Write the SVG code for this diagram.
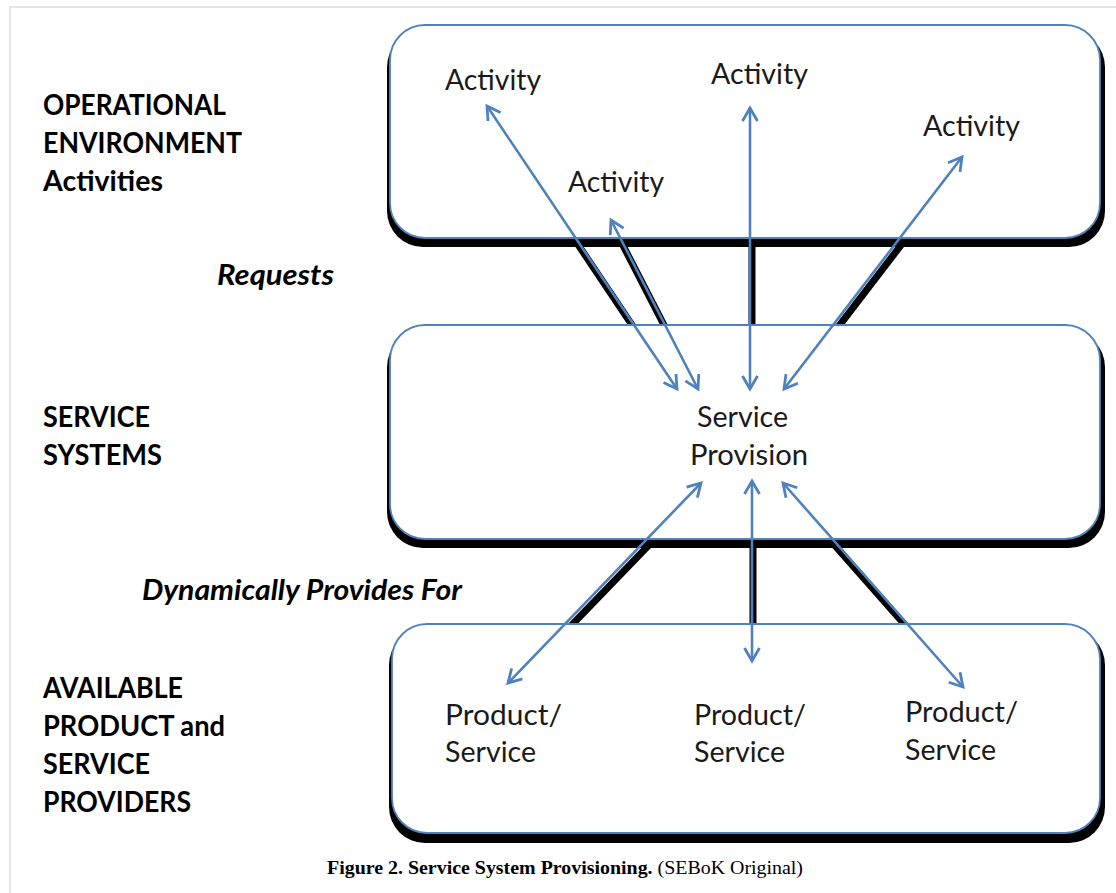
<svg xmlns="http://www.w3.org/2000/svg" width="1116" height="893" viewBox="0 0 1116 893">
  <style>
    .frame { stroke: #dedede; stroke-width: 1.5; fill: none; }
    .box { fill: #ffffff; stroke: #4F81BD; stroke-width: 1.8; }
    .boxshadow { fill: #000000; }
    .ashadow { stroke: #000000; stroke-width: 7; fill: none; }
    .arrow { stroke: #4F81BD; stroke-width: 2.6; fill: none; marker-start: url(#head); marker-end: url(#head); }
    .label { font-family: Lato, "Open Sans", "Liberation Sans", sans-serif; font-weight: bold; font-size: 28px; fill: #000; }
    .ilabel { font-family: Lato, "Open Sans", "Liberation Sans", sans-serif; font-weight: bold; font-style: italic; font-size: 28px; fill: #000; }
    .inner { font-family: Lato, "Open Sans", "Liberation Sans", sans-serif; font-size: 28px; fill: #1a1a1a; }
    .caption { font-family: "Liberation Serif", "Times New Roman", serif; font-size: 18px; fill: #000; }
  </style>
  <defs>
    <marker id="head" markerUnits="userSpaceOnUse" markerWidth="20" markerHeight="20" viewBox="-16 -10 20 20" refX="0" refY="0" orient="auto-start-reverse">
      <path d="M-13,-7.5 L0,0 L-13,7.5" fill="none" stroke="#4F81BD" stroke-width="2.8" stroke-linejoin="miter"/>
    </marker>
  </defs>

  <rect width="1116" height="893" fill="#ffffff"/>
  <path class="frame" d="M10,893 L10,7 L1116,7"/>

  <!-- arrow shadows (visible only between boxes) -->
  <g id="connector-shadows">
    <line class="ashadow" x1="489" y1="112" x2="679" y2="395"/>
    <line class="ashadow" x1="613" y1="226" x2="700" y2="395"/>
    <line class="ashadow" x1="752" y1="114" x2="752" y2="395"/>
    <line class="ashadow" x1="964" y1="163" x2="786" y2="395"/>
    <line class="ashadow" x1="703" y1="489" x2="510" y2="689"/>
    <line class="ashadow" x1="753" y1="487" x2="753" y2="667"/>
    <line class="ashadow" x1="785" y1="489" x2="965" y2="693"/>
  </g>

  <g id="box-operational">
    <rect class="boxshadow" x="387" y="31" width="718" height="216" rx="36"/>
    <rect class="box" x="390" y="25" width="710" height="213" rx="35"/>
  </g>
  <g id="box-service">
    <rect class="boxshadow" x="387" y="331" width="718" height="217" rx="36"/>
    <rect class="box" x="390" y="325" width="710" height="214" rx="35"/>
  </g>
  <g id="box-providers">
    <rect class="boxshadow" x="389" y="629" width="716" height="214" rx="36"/>
    <rect class="box" x="392" y="624" width="708" height="209" rx="35"/>
  </g>

  <g id="connectors">
    <line class="arrow" x1="487" y1="106" x2="677" y2="389"/>
    <line class="arrow" x1="611" y1="220" x2="698" y2="389"/>
    <line class="arrow" x1="750" y1="108" x2="750" y2="389"/>
    <line class="arrow" x1="962" y1="157" x2="784" y2="389"/>
    <line class="arrow" x1="701" y1="483" x2="508" y2="683"/>
    <line class="arrow" x1="752" y1="481" x2="752" y2="661"/>
    <line class="arrow" x1="783" y1="483" x2="963" y2="687"/>
  </g>

  <g id="label-operational">
    <text class="label" x="43" y="115" textLength="183" lengthAdjust="spacingAndGlyphs">OPERATIONAL</text>
    <text class="label" x="43" y="153" textLength="199" lengthAdjust="spacingAndGlyphs">ENVIRONMENT</text>
    <text class="label" x="43" y="191" textLength="120" lengthAdjust="spacingAndGlyphs">Activities</text>
  </g>
  <g id="label-requests">
    <text class="ilabel" x="217" y="285" textLength="117" lengthAdjust="spacingAndGlyphs">Requests</text>
  </g>
  <g id="label-service-systems">
    <text class="label" x="43" y="427" textLength="107" lengthAdjust="spacingAndGlyphs">SERVICE</text>
    <text class="label" x="43" y="465" textLength="119" lengthAdjust="spacingAndGlyphs">SYSTEMS</text>
  </g>
  <g id="label-provides">
    <text class="ilabel" x="142" y="600" textLength="320" lengthAdjust="spacingAndGlyphs">Dynamically Provides For</text>
  </g>
  <g id="label-providers">
    <text class="label" x="43" y="698" textLength="140" lengthAdjust="spacingAndGlyphs">AVAILABLE</text>
    <text class="label" x="43" y="736" textLength="182" lengthAdjust="spacingAndGlyphs">PRODUCT and</text>
    <text class="label" x="43" y="774" textLength="107" lengthAdjust="spacingAndGlyphs">SERVICE</text>
    <text class="label" x="43" y="812" textLength="148" lengthAdjust="spacingAndGlyphs">PROVIDERS</text>
  </g>

  <g id="activity-1"><text class="inner" x="445" y="90" textLength="96" lengthAdjust="spacingAndGlyphs">Activity</text></g>
  <g id="activity-2"><text class="inner" x="711" y="84" textLength="97" lengthAdjust="spacingAndGlyphs">Activity</text></g>
  <g id="activity-3"><text class="inner" x="923" y="136" textLength="97" lengthAdjust="spacingAndGlyphs">Activity</text></g>
  <g id="activity-4"><text class="inner" x="568" y="192" textLength="96" lengthAdjust="spacingAndGlyphs">Activity</text></g>

  <g id="service-provision">
    <text class="inner" x="697" y="427" textLength="91" lengthAdjust="spacingAndGlyphs">Service</text>
    <text class="inner" x="690" y="465" textLength="118" lengthAdjust="spacingAndGlyphs">Provision</text>
  </g>

  <g id="product-1">
    <text class="inner" x="445" y="725" textLength="117" lengthAdjust="spacingAndGlyphs">Product/</text>
    <text class="inner" x="445" y="762" textLength="91" lengthAdjust="spacingAndGlyphs">Service</text>
  </g>
  <g id="product-2">
    <text class="inner" x="694" y="725" textLength="112" lengthAdjust="spacingAndGlyphs">Product/</text>
    <text class="inner" x="694" y="762" textLength="91" lengthAdjust="spacingAndGlyphs">Service</text>
  </g>
  <g id="product-3">
    <text class="inner" x="905" y="722" textLength="113" lengthAdjust="spacingAndGlyphs">Product/</text>
    <text class="inner" x="905" y="760" textLength="91" lengthAdjust="spacingAndGlyphs">Service</text>
  </g>

  <g id="caption">
    <text class="caption" x="327" y="874" textLength="476" lengthAdjust="spacingAndGlyphs"><tspan font-weight="bold">Figure 2. Service System Provisioning.</tspan> (SEBoK Original)</text>
  </g>
</svg>
